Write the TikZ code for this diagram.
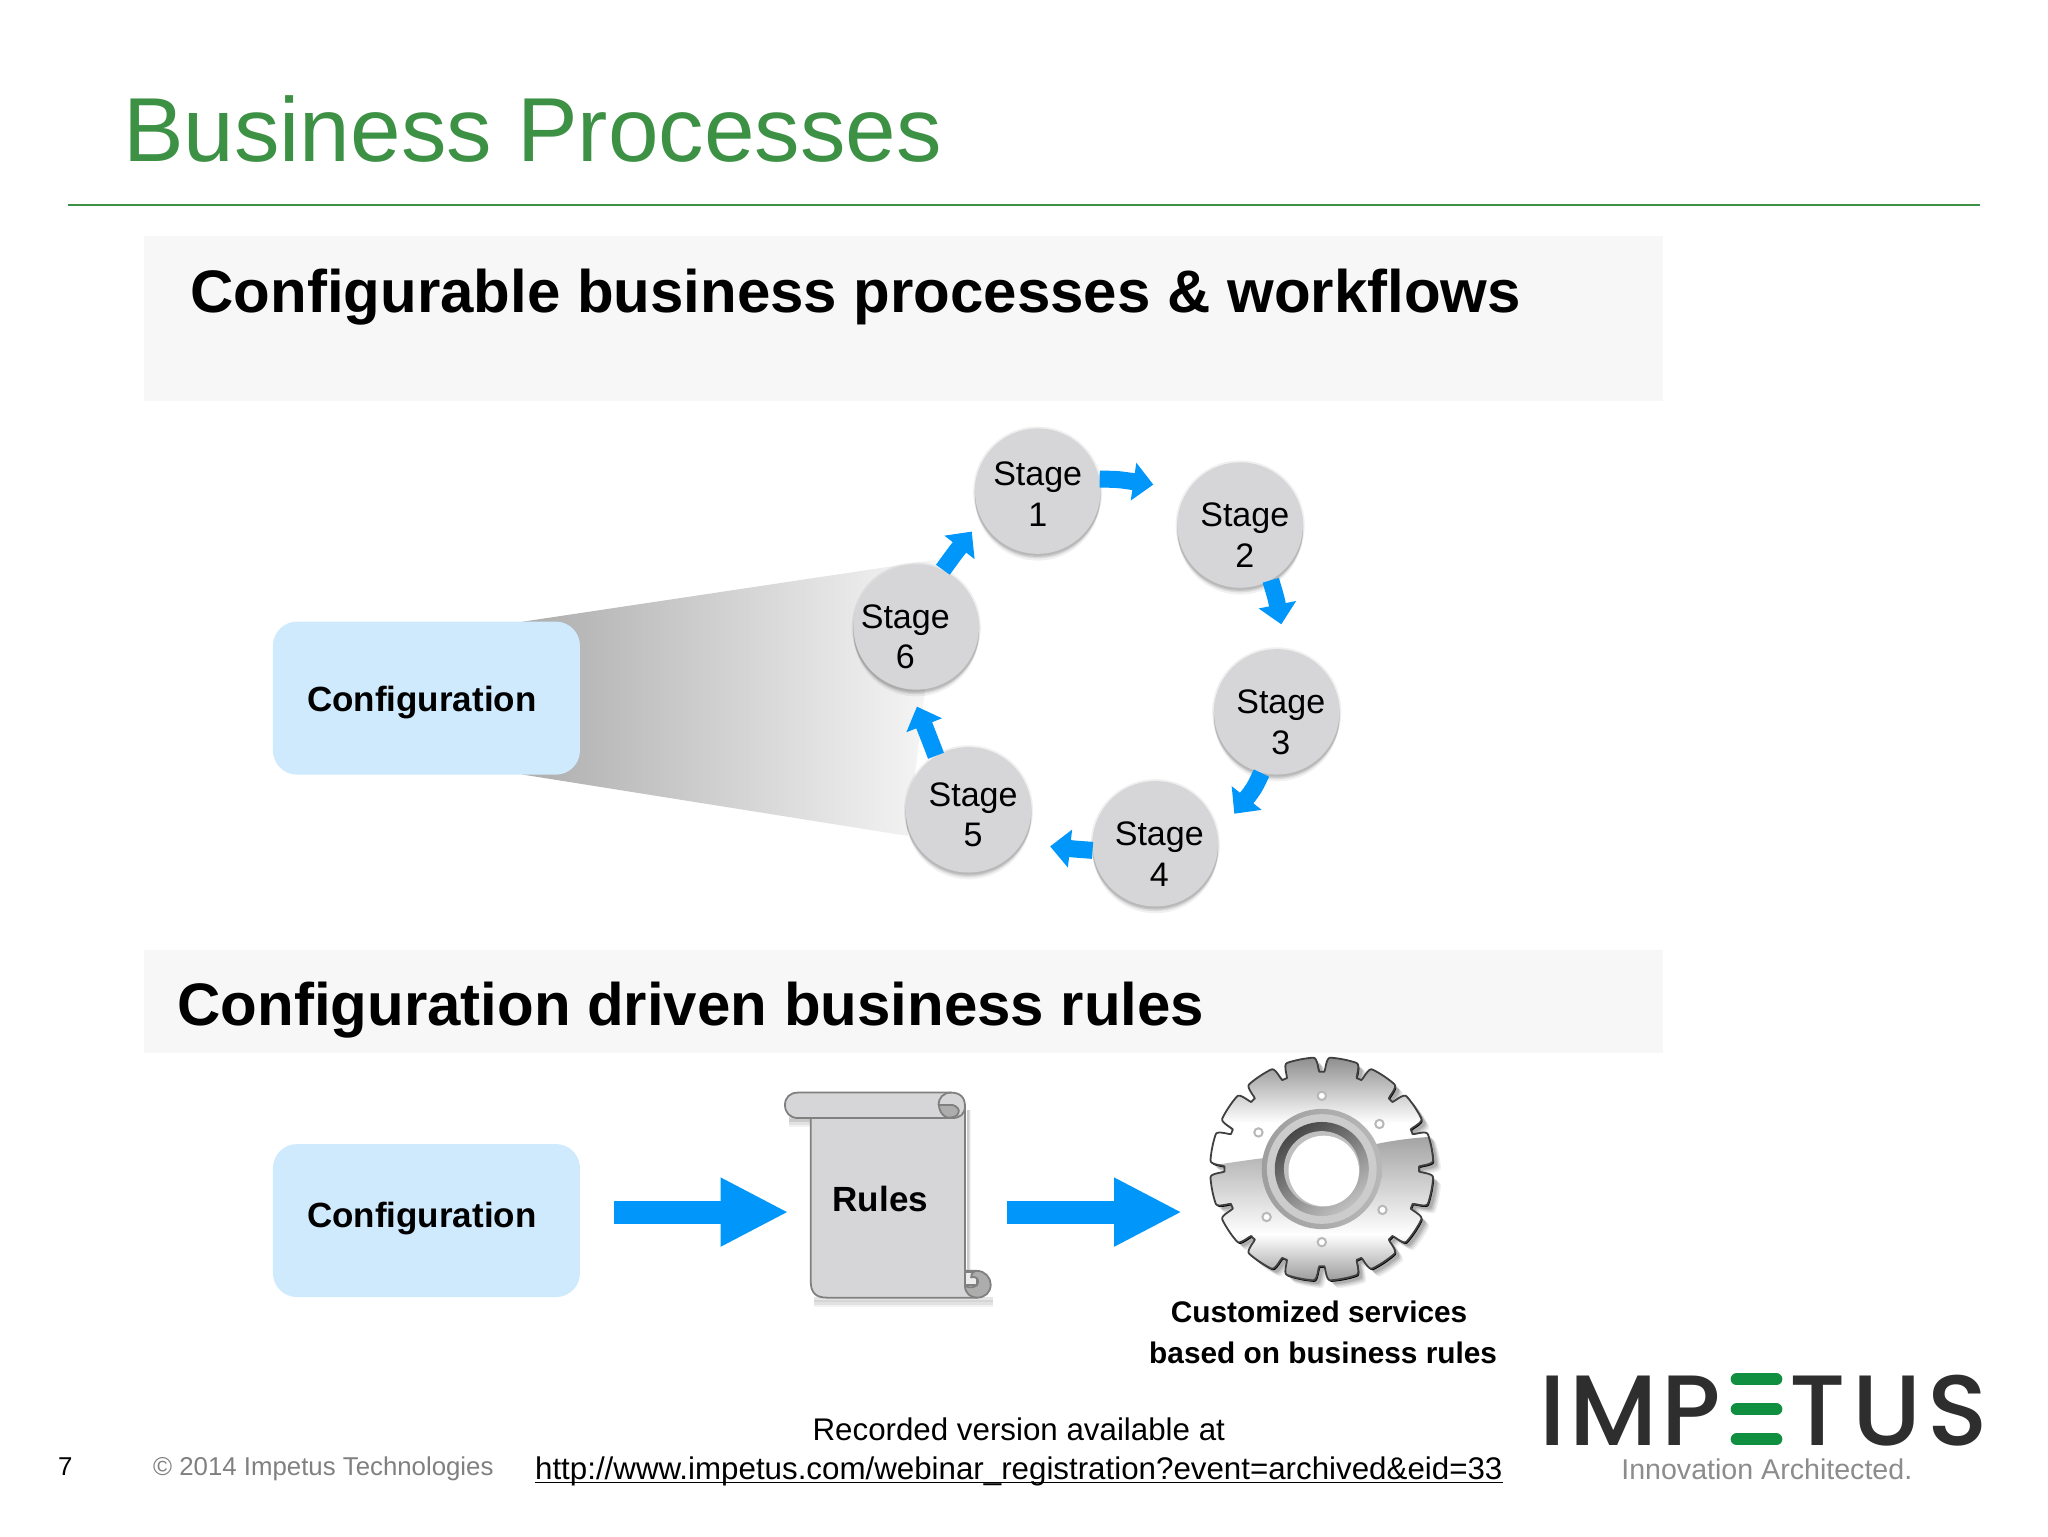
\documentclass[tikz,border=0pt]{standalone}
\usepackage{fontspec}
\setmainfont{Liberation Sans}
\newfontfamily\pop{Poppins Medium}[LetterSpace=4]
\usetikzlibrary{arrows.meta,shadows}
\definecolor{ttl}{HTML}{3D9144}
\definecolor{band}{HTML}{F7F7F7}
\definecolor{cfg}{HTML}{CFEAFD}
\definecolor{stg}{HTML}{D6D6D8}
\definecolor{blu}{HTML}{0096FA}
\definecolor{scl}{HTML}{808080}
\definecolor{logod}{HTML}{2E2E2E}
\definecolor{logog}{HTML}{0F8F3F}
\tikzset{
  cfgbox/.style={fill=cfg,draw=none,rounded corners=12pt,minimum width=153.5pt,minimum height=76.5pt,inner sep=0pt},
  bt/.style={inner sep=0pt,font=\bfseries\fontsize{17.5}{21}\selectfont,align=center},
  head/.style={anchor=base west,inner sep=0pt,font=\bfseries\fontsize{30}{34}\selectfont},
  soft/.style={general shadow={fill=black,opacity=.06,shadow yshift=-3.4pt,shadow scale=1.0},
               general shadow={fill=black,opacity=.09,shadow yshift=-2.3pt,shadow scale=1.0},
               general shadow={fill=black,opacity=.1,shadow yshift=-1.2pt,shadow scale=1.01},
               general shadow={fill=black,opacity=.06,shadow scale=1.03}},
  stage/.style={circle,fill=stg,draw=none,minimum size=62.7pt,inner sep=0pt,soft},
  stxt/.style={inner sep=0pt,align=center,font=\fontsize{17}{20.25}\selectfont},
  arr/.style={draw=blu,line width=8.5pt,-{Triangle[width=18.5pt,length=10pt]}},
  bigarr/.style={draw=blu,line width=11.5pt,-{Triangle[width=32pt,length=34pt]}},
  scrl/.style={draw=scl,line width=.9pt,fill=stg,line join=round},
  foot/.style={inner sep=0pt,anchor=base,font=\fontsize{15.65}{19}\selectfont},
  logot/.style={inner sep=0pt,text=logod,font=\pop\fontsize{50}{60}\selectfont},
}
\begin{document}
\begin{tikzpicture}[x=0.65306pt,y=-0.65306pt]
\useasboundingbox (0,0) rectangle (1568,1176);
% title
\node[anchor=base west,inner sep=0pt,text=ttl,font=\fontsize{45.45}{50}\selectfont] (title) at (94,124) {Business Processes};
\coordinate (ruleL) at (52,157);
\coordinate (ruleR) at (1516,157);
\draw[ttl,line width=.8pt] (ruleL) -- (ruleR);
% bands
\fill[band] (110,181) rectangle (1273,307);
\fill[band] (110,727) rectangle (1273,806);
\node[head] (h1) at (145.5,239) {Configurable business processes \& workflows};
\node[head] (h2) at (135.5,785) {Configuration driven business rules};
% funnel
\shade[left color=black!32,right color=black!3] (400,476) -- (720,428) -- (695,640) -- (400,593) -- cycle;
% config boxes
\node[cfgbox] (cfg1) at (326.5,534.5) {};
\node[bt] (cfg1t) at (323,538) {Configuration};
\node[cfgbox] (cfg2) at (326.5,934.5) {};
\node[bt] (cfg2t) at (323,933) {Configuration};
% stages
\node[stage,label={[stxt,xshift=0pt,yshift=-1.6pt]center:Stage\\1}] (s1) at (794.5,376) {};
\node[stage,label={[stxt,xshift=2.3pt,yshift=-5pt]center:Stage\\2}] (s2) at (949.5,402) {};
\node[stage,label={[stxt,xshift=2pt,yshift=-5.2pt]center:Stage\\3}] (s3) at (977.5,545) {};
\node[stage,label={[stxt,xshift=2pt,yshift=-5.3pt]center:Stage\\4}] (s4) at (884.5,646) {};
\node[stage,label={[stxt,xshift=2.3pt,yshift=-2.5pt]center:Stage\\5}] (s5) at (741.5,620) {};
\node[stage,label={[stxt,xshift=-5.5pt,yshift=-5pt]center:Stage\\6}] (s6) at (701.5,480) {};
\coordinate (e1) at (883,371);
\coordinate (e2) at (981,478);
\coordinate (e3) at (945,623);
\coordinate (e4) at (804,648);
\coordinate (e5) at (702,541);
\coordinate (e6) at (744,407);
\draw[arr] (s1.11) .. controls (856,367) .. (e1);
\draw[arr] (s2.-61) .. controls (977,458) .. (e2);
\draw[arr] (s3.-104) .. controls (960,604) .. (e3);
\draw[arr] (s4.186) .. controls (822,650) .. (e4);
\draw[arr] (s5.121) .. controls (711,564) .. (e5);
\draw[arr] (s6.65) .. controls (730,425) .. (e6);
% scroll
\foreach \o/\p in {7/.05,5/.07,3/.1}{
  \fill[black,opacity=\p] (623,990+\o) rectangle (760,994+\o);
  \fill[black,opacity=\p] (604,850+\o) rectangle (620,856+\o);
  \fill[black,opacity=\p] (740,850) rectangle (740+\o/2,972);}
\path[scrl] (620.7,856) -- (620.7,981) .. controls (620.7,990) and (625,993.5) .. (633,993.5) -- (748,993.5) -- (748,973) -- (738.8,973) -- (738.8,846) -- (712,846) -- cycle;
\path[scrl] (611,836.5) -- (728,836.5) .. controls (735,836.5) and (738.8,840) .. (738.8,847) .. controls (738.8,853) and (735,856) .. (729,856) -- (611,856) .. controls (605,856) and (601,852) .. (601,846) .. controls (601,840) and (605,836.5) .. (611,836.5) -- cycle;
\path[fill=black!32,draw=scl,line width=.9pt,line join=round] (718.8,846) -- (729.5,846) .. controls (733,847) and (735,850) .. (733.8,852) .. controls (733,855) and (729,856) .. (725,855.5) .. controls (721,854) and (719,850) .. (718.8,846) -- cycle;
\draw[scl,line width=.9pt] (728,836.5) .. controls (722,836.5) and (718.5,841) .. (718.5,846);
\path[scrl,fill=black!7] (738.8,974) rectangle (748,984);
\path[scrl,fill=black!32] (748,973) .. controls (754,973) and (758.5,978) .. (758.5,983.5) .. controls (758.5,989.5) and (754,993.5) .. (748,993.5) .. controls (743,993.5) and (738.8,990) .. (738.8,984.5) .. controls (742,986.5) and (749,986) .. (749,981.5) .. controls (749,978) and (745.5,977) .. (743.5,978) .. controls (743.5,975) and (745.5,973) .. (748,973) -- cycle;
\node[minimum width=78.4pt,minimum height=87.5pt,inner sep=0pt] (scroll) at (680,928) {};
\node[bt] (rules) at (674,918) {Rules};
% gear
\def\gearplot{plot[domain=0:360,samples=961] (\x:{85.5-11*min(1,2.2*pow(0.5+0.5*cos(16*\x),14))})}
\begin{scope}[shift={(1012,895)}]
  \foreach \o/\p in {6/.06,5/.08,4/.1,3/.12}{\begin{scope}[shift={(\o,\o)}]\fill[black,opacity=\p] \gearplot -- cycle;\end{scope}}
  \begin{scope}[shift={(.8,1.2)}]\fill[black] \gearplot -- cycle;\end{scope}
  \begin{scope}
    \clip \gearplot -- cycle;
    \shade[top color=black!48,bottom color=white] (-90,-90) rectangle (90,-35);
    \fill[white] (-90,-35.5) rectangle (90,0);
    \begin{scope}
      \clip (-90,-2) .. controls (-60,-6) and (-40,-10) .. (-20,-10) -- (20,-14) .. controls (50,-22) and (70,-24) .. (90,-25) -- (90,90) -- (-90,90) -- cycle;
      \shade[top color=black!36,bottom color=white] (-90,-25) rectangle (90,50.5);
      \shade[top color=white,bottom color=black!42] (-90,50) rectangle (90,88);
    \end{scope}
  \end{scope}
  \draw[black!75,line width=.9pt,line join=round] \gearplot -- cycle;
  \foreach \a in {34,90,139,210,270,322}{\draw[black!28,fill=white,line width=1pt] (\a:56) circle[radius=3.2];}
  \shade[left color=black!38,right color=black!28] (0,0) circle[radius=46];
  \fill[black!20] (0,0) circle[radius=42];
  \shade[left color=black!72,right color=black!25,shading angle=35] (0,0) circle[radius=36];
  \fill[black!25] (0,0) circle[radius=29];
  \fill[white] (1.5,1.5) circle[radius=27];
\end{scope}
\node[inner sep=0pt,minimum size=113pt] (gear) at (1012,895) {};
\coordinate (gin) at (905,928);
\draw[bigarr,shorten <=17pt,shorten >=10.4pt] (cfg2.east |- scroll.west) -- (scroll.west);
\draw[bigarr,shorten <=20.2pt] (scroll.east) -- (gin);
\node[bt,font=\bfseries\fontsize{14.9}{20.2}\selectfont] (cust) at (1013,1020) {Customized services\hspace*{4pt}\\based on business rules};
% footer
\node[foot] (rec) at (780,1103) {Recorded version available at};
\node[foot] (url) at (780,1133) {http://www.impetus.com/webinar\_registration?event=archived\&eid=33};
\draw[black,line width=.8pt] ([yshift=-1.3pt]url.base west) -- ([yshift=-1.3pt]url.base east);
\node[inner sep=0pt,anchor=base,font=\fontsize{12.9}{15}\selectfont] (pg) at (50,1130) {7};
\node[inner sep=0pt,anchor=base west,text=black!50,font=\fontsize{12.9}{15}\selectfont] (copy) at (117,1130) {© 2014 Impetus Technologies};
% logo
\node[logot,anchor=base west] (imp) at (1178,1106.5) {IMP};
\node[logot,anchor=base west] (tus) at (1370,1106.5) {\addfontfeature{LetterSpace=6}TUS};
\foreach \y in {1056,1079,1102}{\draw[logog,line width=6pt,line cap=round] (1329.6,\y) -- (1360,\y);}
\node[anchor=base west,inner sep=0pt,text=black!45,font=\fontsize{14.3}{16}\selectfont] (tag) at (1241,1133) {Innovation Architected.};
\end{tikzpicture}
\end{document}
